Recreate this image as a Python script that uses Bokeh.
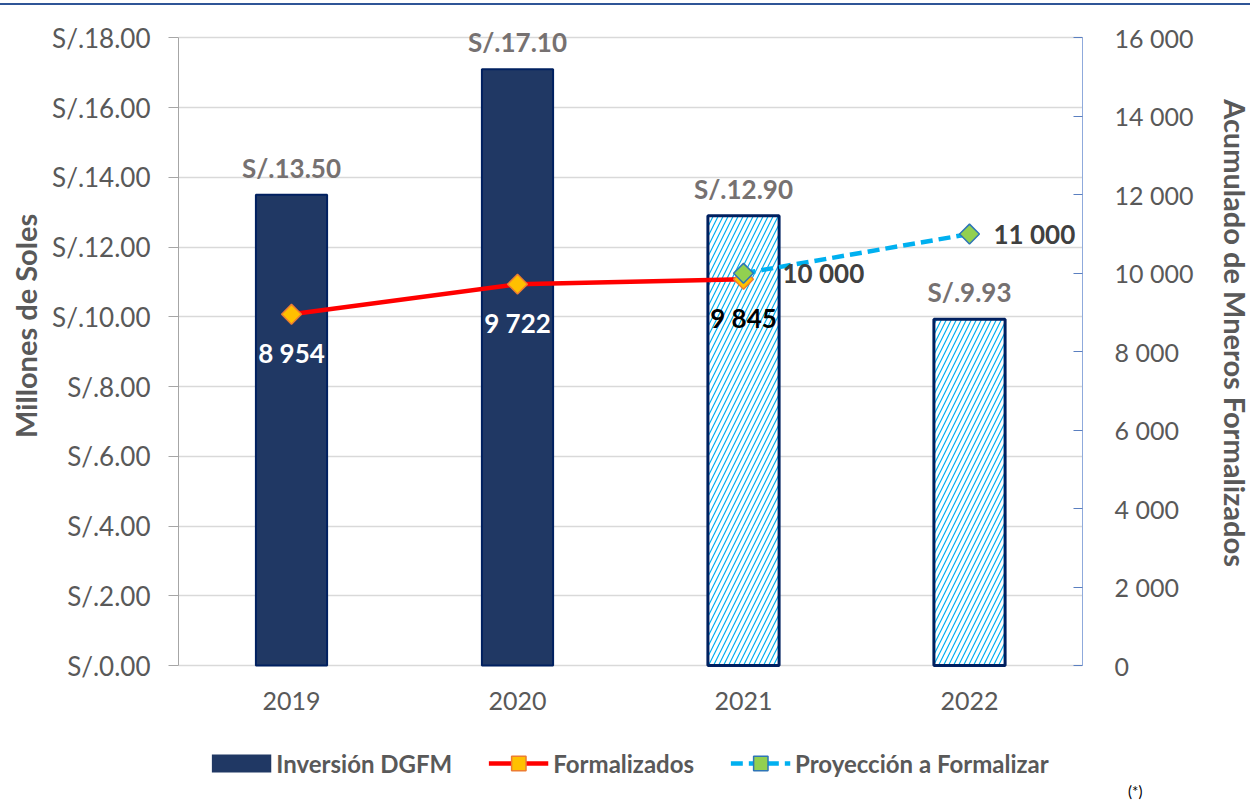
from bokeh.plotting import figure
from bokeh.models import (ColumnDataSource, FactorRange, Range1d, LinearAxis, SingleIntervalTicker,
                          PrintfTickFormatter, CustomJSTickFormatter, Legend, LegendItem, LabelSet,
                          Div)
from bokeh.core.properties import value
from bokeh.layouts import column
from bokeh.embed import file_html
from bokeh.resources import INLINE
import math

# ---------------- data ----------------
years = ["2019", "2020", "2021", "2022"]
inv_years_real = ["2019", "2020"]
inv_real = [13.50, 17.10]
inv_years_proj = ["2021", "2022"]
inv_proj = [12.90, 9.93]

form_years = ["2019", "2020", "2021"]
formalizados = [8954, 9722, 9845]

proj_years = ["2021", "2022"]
proyeccion = [10000, 11000]

legend_labels = ["Inversión DGFM", "Formalizados", "Proyección a Formalizar"]
left_title = "Millones de Soles"
right_title = "Acumulado de Mneros Formalizados"
footnote = "(*)"

left_axis_max = 18
right_axis_max = 16000
HEADROOM = 1.05    # room above the axes for the bar labels
FOOTROOM = 0.215   # room below the axes for year labels and legend

FONT = "Lato"
GRAY = "#595959"
NAVY = "#203864"
NAVY_LINE = "#002060"
RED = "#FF0000"
CYAN = "#00B0F0"
NBSP = "\u00A0"

def fmt_thousands(v):
    return f"{v:,}".replace(",", " ")

# ---------------- main figure ----------------
p = figure(x_range=FactorRange(*years),
           y_range=Range1d(-left_axis_max * FOOTROOM, left_axis_max * HEADROOM),
           frame_width=904, frame_height=794, output_backend="svg", toolbar_location=None,
           title=None, x_axis_location=None, min_border_left=178, min_border_right=168,
           min_border_top=1, min_border_bottom=0)
p.outline_line_color = None
p.background_fill_color = "white"
p.border_fill_color = "white"
p.extra_y_ranges = {"right": Range1d(-right_axis_max * FOOTROOM, right_axis_max * HEADROOM)}

# grid
p.xgrid.grid_line_color = None
p.ygrid.grid_line_color = "#D9D9D9"
p.ygrid.grid_line_width = 1.5
p.ygrid.bounds = (0, left_axis_max)

# left axis (non-breaking padding keeps the title centred on the 0-18 span)
p.yaxis.ticker = SingleIntervalTicker(interval=2)
p.yaxis.bounds = (0, left_axis_max)
p.yaxis.formatter = PrintfTickFormatter(format="S/.%.2f")
p.yaxis.axis_label = NBSP * 22 + left_title
p.yaxis.axis_label_text_font = FONT
p.yaxis.axis_label_text_font_style = "bold"
p.yaxis.axis_label_text_font_size = "29px"
p.yaxis.axis_label_text_color = GRAY
p.yaxis.axis_label_standoff = 6
p.yaxis.major_label_text_font = FONT
p.yaxis.major_label_text_font_size = "26px"
p.yaxis.major_label_text_color = GRAY
p.yaxis.major_label_standoff = 18
p.yaxis.axis_line_color = "#A6A6A6"
p.yaxis.major_tick_line_color = "#A6A6A6"
p.yaxis.major_tick_out = 10
p.yaxis.major_tick_in = 0
p.yaxis.minor_tick_line_color = None

# right axis
ra = LinearAxis(y_range_name="right", ticker=SingleIntervalTicker(interval=2000),
                bounds=(0, right_axis_max),
                formatter=CustomJSTickFormatter(code="return tick.toString().replace(/\\B(?=(\\d{3})+(?!\\d))/g, ' ');"),
                axis_label=right_title + NBSP * 20)
ra.axis_label_text_font = FONT
ra.axis_label_text_font_style = "bold"
ra.axis_label_text_font_size = "29px"
ra.axis_label_text_color = GRAY
ra.axis_label_standoff = 22
ra.major_label_text_font = FONT
ra.major_label_text_font_size = "25px"
ra.major_label_text_color = GRAY
ra.major_label_standoff = 28
ra.axis_line_color = "#8FAADC"
ra.major_tick_line_color = "#5B7FC0"
ra.major_tick_in = 9
ra.major_tick_out = 0
ra.minor_tick_line_color = None
p.add_layout(ra, "right")

# category labels under the baseline
cat_src = ColumnDataSource(dict(x=years, y=[0] * len(years), t=years))
p.add_layout(LabelSet(x="x", y="y", text="t", source=cat_src, text_align="center",
                      text_baseline="top", y_offset=-26, text_font=value(FONT),
                      text_font_size="25px", text_color=GRAY))

# bars
BW = 0.315
p.vbar(x=inv_years_real, top=inv_real, width=BW, bottom=0,
       fill_color=NAVY, line_color=NAVY_LINE, line_width=2)
p.vbar(x=inv_years_proj, top=inv_proj, width=BW, bottom=0,
       fill_color="white", line_color=NAVY_LINE, line_width=3,
       hatch_pattern="/", hatch_color=CYAN, hatch_scale=10, hatch_weight=1.2)

inv_src = ColumnDataSource(dict(x=inv_years_real + inv_years_proj, y=inv_real + inv_proj,
                                t=[f"S/.{v:.2f}" for v in inv_real + inv_proj]))
p.add_layout(LabelSet(x="x", y="y", text="t", source=inv_src, text_align="center",
                      text_baseline="bottom", y_offset=11, text_font=value(FONT),
                      text_font_style="bold", text_font_size="26px", text_color="#767171"))

# formalizados line
l_form = p.line(form_years, formalizados, y_range_name="right", line_color=RED, line_width=4.5)
m_form = p.scatter(form_years, formalizados, y_range_name="right", marker="square", angle=math.pi / 4,
                   size=14, fill_color="#FFC000", line_color="#ED7D31", line_width=1.5)

# proyeccion line
l_proj = p.line(proj_years, proyeccion, y_range_name="right", line_color=CYAN, line_width=4.5,
                line_dash="12 6")
m_proj = p.scatter(proj_years, proyeccion, y_range_name="right", marker="square", angle=math.pi / 4,
                   size=14, fill_color="#92D050", line_color="#2E75B6", line_width=1.5)

# legend swatch for the bars: a thick line that draws nothing in the plot (NaN values)
lg_bar = p.line(inv_years_real, [float("nan")] * len(inv_years_real),
                line_color=NAVY, line_width=18)

form_colors = ["white" if y in inv_years_real else "black" for y in form_years]
form_src = ColumnDataSource(dict(x=form_years, y=formalizados,
                                 t=[fmt_thousands(v) for v in formalizados], c=form_colors))
p.add_layout(LabelSet(x="x", y="y", text="t", source=form_src, y_range_name="right",
                      text_align="center", text_baseline="middle", y_offset=-39,
                      text_font=value(FONT), text_font_style="bold", text_font_size="26px",
                      text_color="c"))

proj_src1 = ColumnDataSource(dict(x=proj_years[:1], y=proyeccion[:1], t=[fmt_thousands(v) for v in proyeccion[:1]]))
proj_src2 = ColumnDataSource(dict(x=proj_years[1:], y=proyeccion[1:], t=[fmt_thousands(v) for v in proyeccion[1:]]))
for src, xo in ((proj_src1, 39), (proj_src2, 24)):
    p.add_layout(LabelSet(x="x", y="y", text="t", source=src, y_range_name="right",
                          text_align="left", text_baseline="middle", x_offset=xo,
                          text_font=value(FONT), text_font_style="bold", text_font_size="26px",
                          text_color="#404040"))

# legend at the bottom of the frame
legend = Legend(items=[
    LegendItem(label=legend_labels[0], renderers=[lg_bar]),
    LegendItem(label=legend_labels[1], renderers=[l_form, m_form]),
    LegendItem(label=legend_labels[2], renderers=[l_proj, m_proj]),
], orientation="horizontal", location="bottom_center")
legend.label_text_font = FONT
legend.label_text_font_style = "bold"
legend.label_text_font_size = "24px"
legend.label_text_color = GRAY
legend.glyph_width = 60
legend.glyph_height = 36
legend.label_standoff = 5
legend.spacing = 36
legend.padding = 0
legend.margin = 19
legend.border_line_color = None
legend.background_fill_alpha = 0
p.add_layout(legend, "center")

top_line = Div(text="", width=1250, height=2, margin=(3, 0, 0, 0),
               styles={"background-color": "#2F5597"})
foot = Div(text=footnote, width=40, height=2, margin=(0, 0, 0, 1128),
           styles={"font-family": "Lato", "font-size": "15px", "color": "black",
                   "line-height": "15px", "overflow": "visible",
                   "transform": "translateY(-16px)"})
layout = column(top_line, p, foot, spacing=0)

open("out.html", "w").write(file_html(layout, INLINE))
